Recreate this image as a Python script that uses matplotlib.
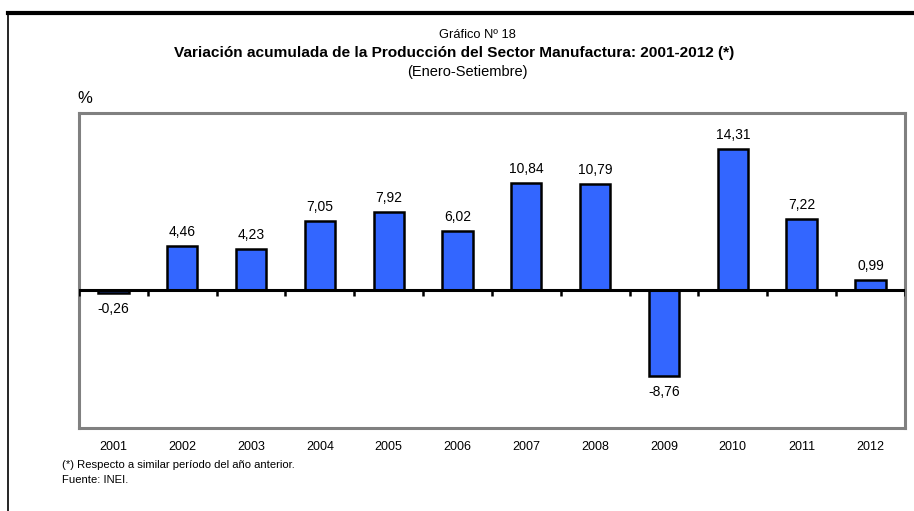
#!/usr/bin/env python3
"""
plot.py - Variación acumulada de la Producción del Sector Manufactura 2001-2012
"""

import matplotlib
matplotlib.use('Agg')
import matplotlib.pyplot as plt
import matplotlib.lines as mlines
import numpy as np

years = ['2001', '2002', '2003', '2004', '2005', '2006',
         '2007', '2008', '2009', '2010', '2011', '2012']
values = [-0.26, 4.46, 4.23, 7.05, 7.92, 6.02,
          10.84, 10.79, -8.76, 14.31, 7.22, 0.99]

NARROW = ['Liberation Sans', 'DejaVu Sans']
REGULAR = ['Liberation Sans', 'DejaVu Sans']
BAR_COLOR = '#3366FF'

fig = plt.figure(figsize=(9.14, 5.11), dpi=100)
ax = fig.add_axes([0.0864, 0.1624, 0.9036, 0.6165])

x = np.arange(len(years))
ax.bar(x, values, width=0.44, color=BAR_COLOR, edgecolor='black',
       linewidth=1.8, zorder=3)

# zero line with small ticks at category boundaries
ax.axhline(0, color='black', linewidth=2.2, zorder=4)
ax.vlines(np.arange(len(years) + 1) - 0.5, -0.6, 0, color='black',
          linewidth=1.8, zorder=4)

# value labels
for xi, v in zip(x, values):
    lbl = f'{v:.2f}'.replace('.', ',')
    if v >= 0:
        ax.annotate(lbl, (xi, v), xytext=(0, 7), textcoords='offset pixels',
                    ha='center', va='bottom', fontsize=10, family=REGULAR)
    else:
        ax.annotate(lbl, (xi, v), xytext=(0, -9), textcoords='offset pixels',
                    ha='center', va='top', fontsize=10, family=REGULAR)

ax.set_xlim(-0.5, len(years) - 0.5)
ax.set_ylim(-14, 18)
ax.set_yticks([])
ax.set_xticks(x)
ax.set_xticklabels(years, fontsize=9, family=NARROW)
ax.tick_params(axis='x', length=0, pad=9)

for sp in ax.spines.values():
    sp.set_color('#808080')
    sp.set_linewidth(2.2)

# titles
fig.text(0.522, 0.931, 'Gráfico Nº 18', ha='center', va='center',
         fontsize=9.3, family=NARROW)
fig.text(0.497, 0.896, 'Variación acumulada de la Producción del Sector Manufactura: 2001-2012 (*)',
         ha='center', va='center', fontsize=11.1, fontweight='bold', family=NARROW)
fig.text(0.511, 0.859, '(Enero-Setiembre)', ha='center', va='center',
         fontsize=10.5, family=NARROW)
fig.text(0.085, 0.808, '%', ha='left', va='center', fontsize=12, family=REGULAR)

# footnotes
fig.text(0.068, 0.090, '(*) Respecto a similar período del año anterior.',
         ha='left', va='center', fontsize=8.1, family=NARROW)
fig.text(0.068, 0.060, 'Fuente: INEI.', ha='left', va='center',
         fontsize=8.1, family=NARROW)

# outer frame: top and left border only
fig.add_artist(mlines.Line2D([0.009, 1.0], [0.974, 0.974], color='black',
                             linewidth=3, transform=fig.transFigure))
fig.add_artist(mlines.Line2D([0.009, 0.009], [0.0, 0.974], color='black',
                             linewidth=1.2, transform=fig.transFigure))

fig.savefig('out.png', dpi=100)
plt.close(fig)
